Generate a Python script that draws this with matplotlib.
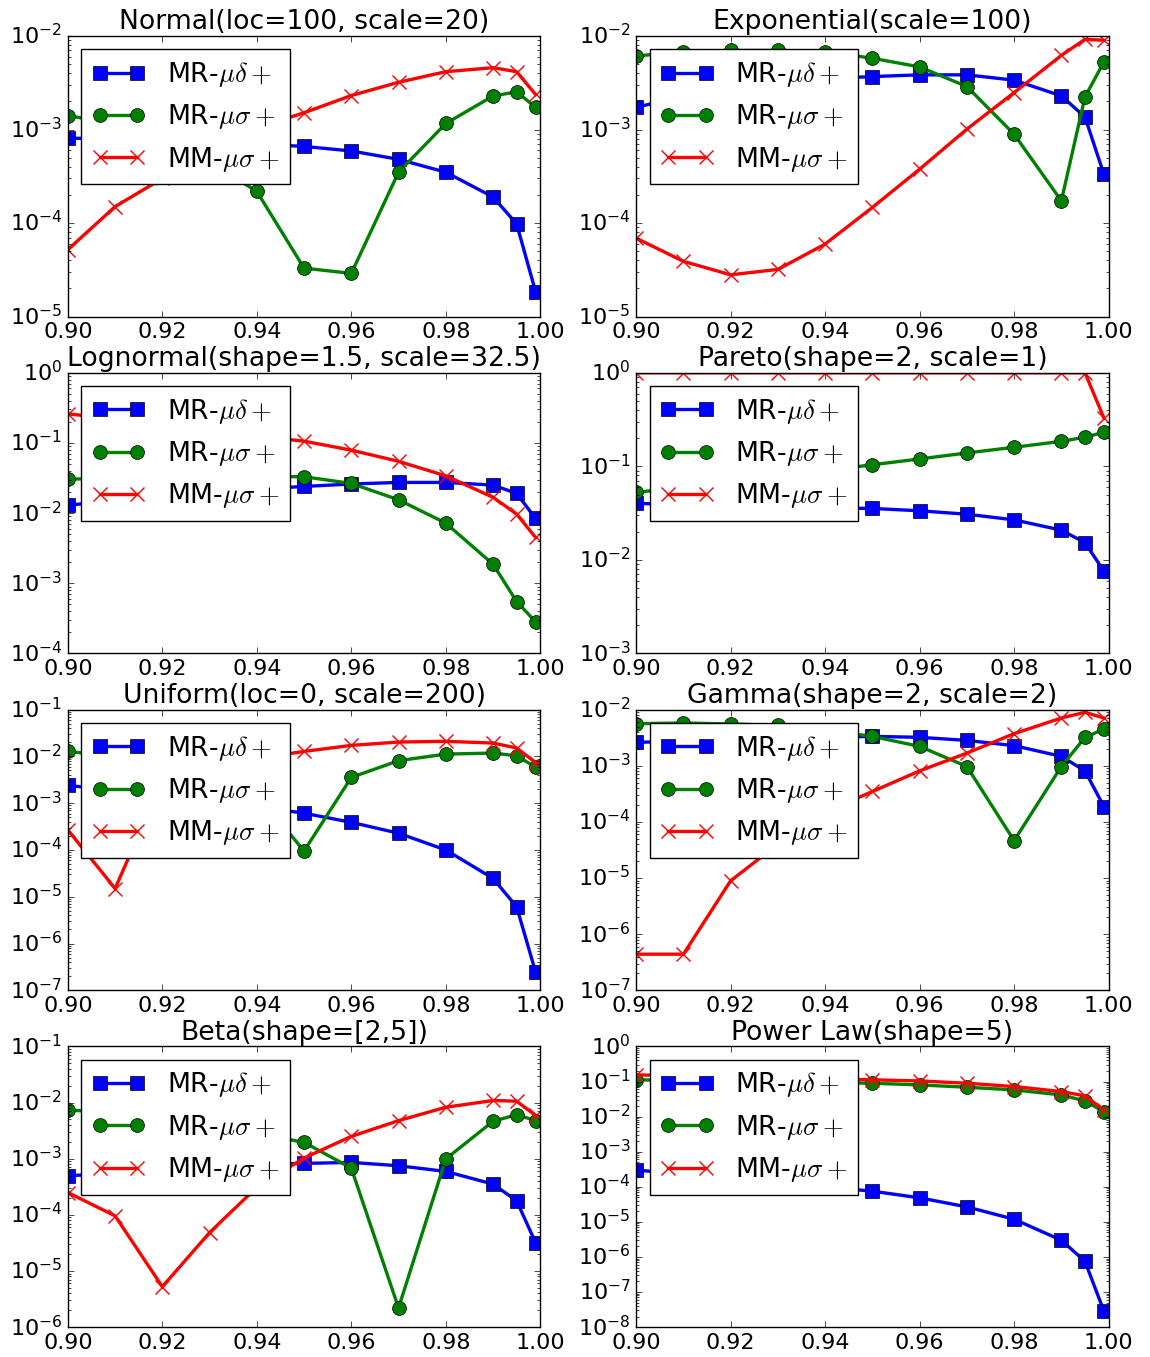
import matplotlib
matplotlib.use("Agg")
import matplotlib.pyplot as plt
from matplotlib.ticker import LogLocator
import numpy as np

plt.style.use("classic")
plt.rcParams["figure.facecolor"] = "white"
plt.rcParams["savefig.facecolor"] = "white"
plt.rcParams["font.size"] = 16
plt.rcParams["mathtext.fontset"] = "cm"

quantiles = [0.90, 0.91, 0.92, 0.93, 0.94, 0.95, 0.96, 0.97, 0.98, 0.99, 0.995, 0.999]
labels = [r"MR-$\mu\delta+$", r"MR-$\mu\sigma+$", r"MM-$\mu\sigma+$"]

titles = ["Normal(loc=100, scale=20)", "Exponential(scale=100)",
          "Lognormal(shape=1.5, scale=32.5)", "Pareto(shape=2, scale=1)",
          "Uniform(loc=0, scale=200)", "Gamma(shape=2, scale=2)",
          "Beta(shape=[2,5])", "Power Law(shape=5)"]

# y limits as decades (10^lo .. 10^hi)
ylims = [(-5, -2), (-5, -2), (-4, 0), (-3, 0), (-7, -1), (-7, -2), (-6, -1), (-8, 0)]

# MR-mu delta+
normal_mrd = [8.1e-4, 7.9e-4, 7.7e-4, 7.4e-4, 7.0e-4, 6.6e-4, 5.9e-4, 4.8e-4, 3.5e-4, 1.9e-4, 9.8e-5, 1.85e-5]
expon_mrd = [1.72e-3, 2.3e-3, 2.8e-3, 3.2e-3, 3.5e-3, 3.68e-3, 3.84e-3, 3.84e-3, 3.37e-3, 2.29e-3, 1.36e-3, 3.33e-4]
lognorm_mrd = [1.3e-2, 1.5e-2, 1.7e-2, 1.95e-2, 2.2e-2, 2.4e-2, 2.6e-2, 2.74e-2, 2.74e-2, 2.51e-2, 1.91e-2, 8.4e-3]
pareto_mrd = [0.0402, 0.039, 0.038, 0.037, 0.036, 0.0355, 0.0335, 0.0308, 0.0268, 0.0208, 0.0153, 7.6e-3]
uniform_mrd = [2.39e-3, 1.9e-3, 1.5e-3, 1.15e-3, 8.5e-4, 6.1e-4, 3.9e-4, 2.28e-4, 1.0e-4, 2.47e-5, 6.1e-6, 2.47e-7]
gamma_mrd = [2.61e-3, 2.75e-3, 2.9e-3, 3.05e-3, 3.2e-3, 3.34e-3, 3.21e-3, 2.83e-3, 2.28e-3, 1.47e-3, 8.1e-4, 1.88e-4]
beta_mrd = [4.97e-4, 5.5e-4, 6.2e-4, 7.0e-4, 7.8e-4, 8.26e-4, 8.6e-4, 7.5e-4, 5.94e-4, 3.53e-4, 1.78e-4, 3.2e-5]
power_mrd = [3.0e-4, 2.3e-4, 1.75e-4, 1.35e-4, 1.0e-4, 7.5e-5, 4.85e-5, 2.68e-5, 1.19e-5, 3.0e-6, 7.5e-7, 2.87e-8]

# MR-mu sigma+
normal_mrs = [1.41e-3, 1.15e-3, 8.0e-4, 4.5e-4, 2.18e-4, 3.3e-5, 2.9e-5, 3.5e-4, 1.16e-3, 2.28e-3, 2.53e-3, 1.73e-3]
expon_mrs = [6.1e-3, 6.8e-3, 7.0e-3, 7.0e-3, 6.8e-3, 5.78e-3, 4.67e-3, 2.88e-3, 8.9e-4, 1.73e-4, 2.23e-3, 5.27e-3]
lognorm_mrs = [3.06e-2, 3.1e-2, 3.2e-2, 3.3e-2, 3.35e-2, 3.3e-2, 2.65e-2, 1.55e-2, 7.2e-3, 1.87e-3, 5.5e-4, 2.83e-4]
pareto_mrs = [0.0527, 0.060, 0.068, 0.078, 0.090, 0.104, 0.12, 0.139, 0.16, 0.185, 0.205, 0.231]
uniform_mrs = [1.28e-2, 1.0e-2, 7.0e-3, 4.0e-3, 1.6e-3, 9.5e-5, 3.55e-3, 8.1e-3, 1.12e-2, 1.18e-2, 1.03e-2, 5.9e-3]
gamma_mrs = [5.62e-3, 5.78e-3, 5.55e-3, 5.25e-3, 4.3e-3, 3.34e-3, 2.21e-3, 9.7e-4, 4.64e-5, 9.7e-4, 3.2e-3, 4.5e-3]
beta_mrs = [7.4e-3, 6.5e-3, 5.5e-3, 4.0e-3, 2.8e-3, 1.96e-3, 6.8e-4, 2.2e-6, 9.9e-4, 4.64e-3, 6.1e-3, 4.77e-3]
power_mrs = [0.112, 0.107, 0.102, 0.098, 0.094, 0.0896, 0.080, 0.0689, 0.0578, 0.0416, 0.028, 0.0139]

# MM-mu sigma+
normal_mms = [5.2e-5, 1.5e-4, 3.0e-4, 6.0e-4, 1.05e-3, 1.51e-3, 2.31e-3, 3.2e-3, 4.15e-3, 4.58e-3, 4.15e-3, 2.37e-3]
expon_mms = [6.9e-5, 3.9e-5, 2.8e-5, 3.2e-5, 5.97e-5, 1.47e-4, 3.77e-4, 1.01e-3, 2.48e-3, 6.2e-3, 9.2e-3, 9.0e-3]
lognorm_mms = [0.26, 0.22, 0.18, 0.15, 0.125, 0.106, 0.079, 0.0547, 0.034, 0.0168, 9.7e-3, 4.5e-3]
pareto_mms = [1.0, 1.0, 1.0, 1.0, 1.0, 1.0, 1.0, 1.0, 1.0, 1.0, 1.0, 0.33]
uniform_mms = [2.68e-4, 1.5e-5, 3.0e-3, 6.0e-3, 9.0e-3, 1.28e-2, 1.72e-2, 2.03e-2, 2.1e-2, 1.93e-2, 1.51e-2, 7.4e-3]
gamma_mms = [4.4e-7, 4.4e-7, 8.96e-6, 4.0e-5, 1.5e-4, 3.48e-4, 8.1e-4, 1.68e-3, 3.73e-3, 7.1e-3, 8.96e-3, 7.1e-3]
beta_mms = [2.5e-4, 9.6e-5, 5.25e-6, 4.84e-5, 3.1e-4, 1.03e-3, 2.5e-3, 4.77e-3, 8.26e-3, 1.09e-2, 1.06e-2, 5.9e-3]
power_mms = [0.155, 0.145, 0.135, 0.127, 0.12, 0.112, 0.104, 0.0896, 0.072, 0.0518, 0.039, 0.0155]

mrd = [normal_mrd, expon_mrd, lognorm_mrd, pareto_mrd, uniform_mrd, gamma_mrd, beta_mrd, power_mrd]
mrs = [normal_mrs, expon_mrs, lognorm_mrs, pareto_mrs, uniform_mrs, gamma_mrs, beta_mrs, power_mrs]
mms = [normal_mms, expon_mms, lognorm_mms, pareto_mms, uniform_mms, gamma_mms, beta_mms, power_mms]

fig, axes = plt.subplots(4, 2, figsize=(11.5, 13.57), dpi=100)
fig.subplots_adjust(left=0.059, right=0.964, bottom=0.022, top=0.9735,
                    wspace=0.203, hspace=0.2)

for i, ax in enumerate(axes.flat):
    ax.plot(quantiles, mrd[i], "b-s", lw=2.4, ms=10, label=labels[0])
    ax.plot(quantiles, mrs[i], "g-o", lw=2.4, ms=10, label=labels[1])
    ax.plot(quantiles, mms[i], "r-x", lw=2.4, ms=10, mew=1, label=labels[2])
    ax.set_yscale("log")
    ax.set_xlim(0.90, 1.00)
    lo, hi = ylims[i]
    ax.set_ylim(10.0 ** lo, 10.0 ** hi)
    ax.yaxis.set_major_locator(LogLocator(base=10, numticks=15))
    ax.set_xticks([0.90, 0.92, 0.94, 0.96, 0.98, 1.00])
    ax.set_xticklabels(["0.90", "0.92", "0.94", "0.96", "0.98", "1.00"])
    ax.set_title(titles[i])
    ax.legend(loc="upper left", numpoints=2)

plt.savefig("out.png", dpi=100)
plt.close()
